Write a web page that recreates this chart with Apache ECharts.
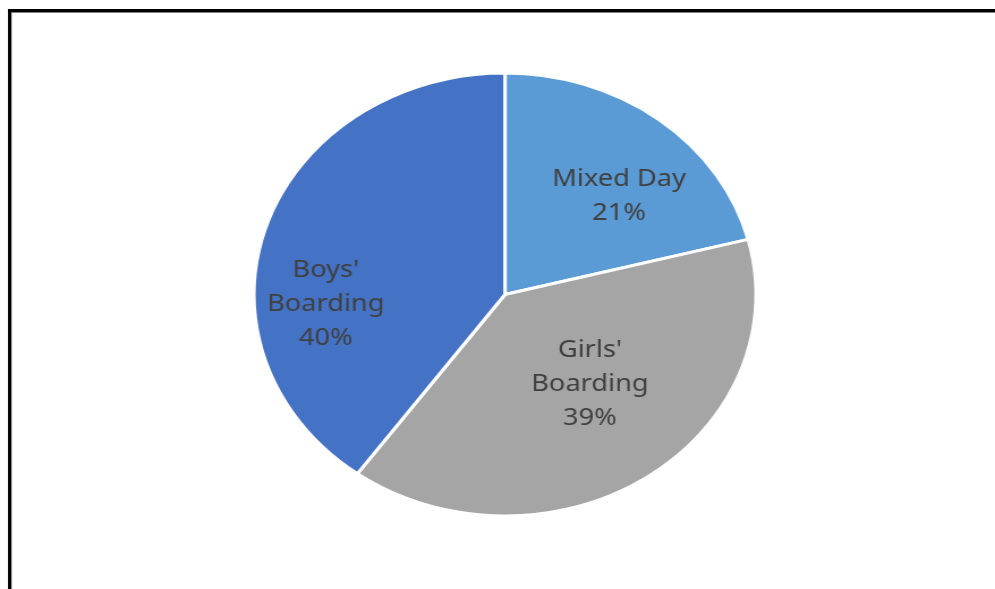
<!DOCTYPE html>
<html>
<head>
<meta charset="utf-8">
<script src="https://cdn.jsdelivr.net/npm/echarts@6/dist/echarts.min.js"></script>
<style>
  html, body { margin: 0; padding: 0; background: #fff; overflow: hidden; }
  #wrap { width: 995px; height: 589px; position: relative; overflow: hidden; }
  /* the pie is drawn a little wider than tall */
  #chart { width: 878px; height: 589px; transform: scaleX(1.1333); transform-origin: 0 0; }
</style>
</head>
<body>
<div id="wrap"><div id="chart"></div></div>
<script>
// School type shares
const categories = ['Mixed Day', "Girls' Boarding", "Boys' Boarding"];
const labelLines = ['Mixed Day', "Girls'\nBoarding", "Boys'\nBoarding"];
const shares = [21, 39, 40];
const colors = ['#5B9BD5', '#A5A5A5', '#4472C4'];
// label nudges from the default inside position
const labelShift = [[31, -8], [11, -4], [-50, 45]];

const chart = echarts.init(document.getElementById('chart'), null, { renderer: 'canvas' });

chart.setOption({
  backgroundColor: '#ffffff',
  animation: false,
  graphic: [
    { type: 'rect', shape: { x: 7.06, y: 9, width: 900, height: 3.5 }, style: { fill: '#000' }, silent: true },
    { type: 'rect', shape: { x: 7.06, y: 9, width: 3, height: 600 }, style: { fill: '#000' }, silent: true },
    { type: 'rect', shape: { x: 10.06, y: 12.5, width: 0.9, height: 600 }, style: { fill: '#d9d9d9' }, silent: true }
  ],
  series: [{
    type: 'pie',
    center: [445.6, 294.5],
    radius: [0, 221.5],
    startAngle: 90,
    clockwise: true,
    avoidLabelOverlap: false,
    itemStyle: { borderColor: '#ffffff', borderWidth: 3 },
    label: {
      show: true,
      position: 'inside',
      color: '#404040',
      fontFamily: 'Noto Sans',
      fontSize: 24,
      lineHeight: 34,
      align: 'center',
      formatter: p => labelLines[p.dataIndex] + '\n' + p.value + '%'
    },
    labelLine: { show: false },
    emphasis: { disabled: true },
    labelLayout: p => ({ dx: labelShift[p.dataIndex][0], dy: labelShift[p.dataIndex][1] }),
    data: categories.map((c, i) => ({ name: c, value: shares[i], itemStyle: { color: colors[i] } }))
  }]
});
</script>
</body>
</html>
